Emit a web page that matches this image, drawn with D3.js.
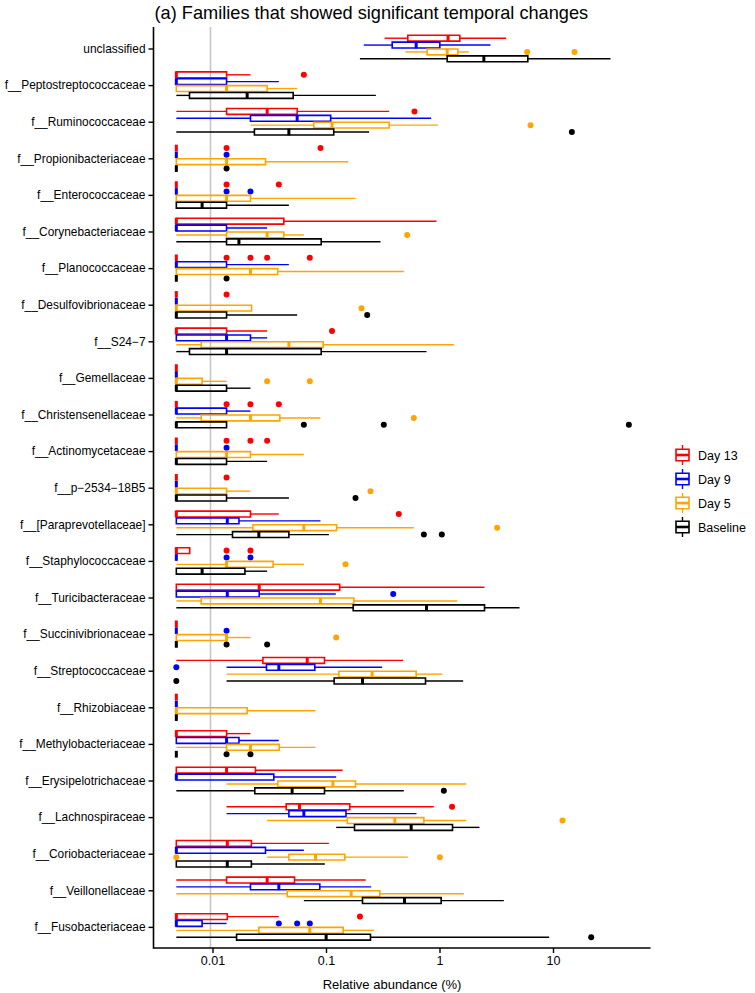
<!DOCTYPE html>
<html>
<head>
<meta charset="utf-8">
<script src="https://cdn.jsdelivr.net/npm/d3@7"></script>
<style>
  html, body { margin: 0; padding: 0; background: #fff; }
  svg { display: block; }
  text { font-family: "Liberation Sans", Arial, Helvetica, sans-serif; fill: #000; }
</style>
</head>
<body>
<div id="chart"></div>
<script>
// ---------------- DATA (relative abundance, %) ----------------
const Z = 0.0048; // value plotted for zero abundance (left edge of data)

const categories = [
  "unclassified", "f__Peptostreptococcaceae", "f__Ruminococcaceae", "f__Propionibacteriaceae",
  "f__Enterococcaceae", "f__Corynebacteriaceae", "f__Planococcaceae", "f__Desulfovibrionaceae",
  "f__S24\u22127", "f__Gemellaceae", "f__Christensenellaceae", "f__Actinomycetaceae",
  "f__p\u22122534\u221218B5", "f__[Paraprevotellaceae]", "f__Staphylococcaceae", "f__Turicibacteraceae",
  "f__Succinivibrionaceae", "f__Streptococcaceae", "f__Rhizobiaceae", "f__Methylobacteriaceae",
  "f__Erysipelotrichaceae", "f__Lachnospiraceae", "f__Coriobacteriaceae", "f__Veillonellaceae",
  "f__Fusobacteriaceae"
];

const groups = ["Day 13", "Day 9", "Day 5", "Baseline"];

// [lower whisker, Q1, median, Q3, upper whisker] per category
const day13 = [
  [0.328, 0.526, 1.19, 1.51, 3.87],
  [Z, Z, Z, 0.0133, 0.0216],
  [Z, 0.0133, 0.0303, 0.0557, 0.360],
  [Z, Z, Z, Z, Z],
  [Z, Z, Z, Z, Z],
  [Z, Z, Z, 0.0425, 0.941],
  [Z, Z, Z, Z, Z],
  [Z, Z, Z, Z, Z],
  [Z, Z, Z, 0.0133, 0.0303],
  [Z, Z, Z, Z, Z],
  [Z, Z, Z, Z, Z],
  [Z, Z, Z, Z, Z],
  [Z, Z, Z, Z, Z],
  [Z, Z, Z, 0.0216, 0.0384],
  [Z, Z, Z, 0.0063, 0.0063],
  [Z, Z, 0.0258, 0.132, 2.49],
  [Z, Z, Z, Z, Z],
  [Z, 0.0278, 0.0683, 0.097, 0.479],
  [Z, Z, Z, Z, Z],
  [Z, Z, Z, 0.0133, 0.0216],
  [Z, Z, 0.0133, 0.0239, 0.140],
  [0.0133, 0.0446, 0.0584, 0.162, 0.891],
  [Z, Z, 0.0135, 0.022, 0.106],
  [Z, 0.0133, 0.0303, 0.0528, 0.224],
  [Z, Z, Z, 0.0135, 0.0384]
];
const day13Out = [
  [], [0.0638], [0.602], [0.0133, 0.0894], [0.0133, 0.0384], [], [0.0133, 0.0216, 0.0303, 0.072],
  [0.0133], [0.113], [], [0.0133, 0.0216, 0.0384], [0.0133, 0.0216, 0.0303], [0.0133], [0.438],
  [0.0133, 0.0216], [], [], [], [], [], [], [1.29], [], [], [0.199]
];

const day9 = [
  [0.215, 0.383, 0.623, 1.007, 2.81],
  [Z, Z, Z, 0.0133, 0.0384],
  [Z, 0.0216, 0.0557, 0.110, 0.845],
  [Z, Z, Z, Z, Z],
  [Z, Z, Z, Z, Z],
  [Z, Z, Z, 0.0133, 0.0303],
  [Z, Z, Z, 0.0133, 0.0471],
  [Z, Z, Z, Z, Z],
  [Z, Z, 0.0133, 0.0216, 0.0303],
  [Z, Z, Z, Z, Z],
  [Z, Z, Z, 0.0133, 0.0216],
  [Z, Z, Z, Z, Z],
  [Z, Z, Z, Z, Z],
  [Z, Z, 0.0135, 0.0171, 0.0894],
  [Z, Z, Z, Z, Z],
  [Z, Z, 0.0135, 0.0258, 0.122],
  [Z, Z, Z, Z, Z],
  [0.0133, 0.0299, 0.0384, 0.0797, 0.3125],
  [Z, Z, Z, Z, Z],
  [Z, Z, 0.0133, 0.0171, 0.0384],
  [Z, Z, Z, 0.0347, 0.123],
  [0.0133, 0.0471, 0.0638, 0.150, 0.627],
  [Z, Z, Z, 0.0293, 0.0638],
  [Z, 0.0216, 0.0384, 0.0882, 0.25],
  [Z, Z, Z, 0.0081, 0.0133]
];
const day9Out = [
  [], [], [], [0.0133], [0.0133, 0.0216], [], [], [], [], [], [], [0.0133], [], [],
  [0.0133, 0.0216], [0.391], [0.0133], [Z], [], [], [], [], [], [], [0.0384, 0.0557, 0.072]
];

const day5 = [
  [0.5015, 0.778, 1.168, 1.451, 1.814],
  [Z, Z, 0.0133, 0.0303, 0.0557],
  [0.0216, 0.0781, 0.113, 0.360, 0.967],
  [Z, Z, 0.0133, 0.0293, 0.157],
  [Z, Z, 0.0133, 0.0216, 0.182],
  [Z, 0.0133, 0.0303, 0.0425, 0.0638],
  [Z, Z, 0.0216, 0.0376, 0.485],
  [Z, Z, Z, 0.0221, 0.0221],
  [Z, 0.00795, 0.0471, 0.0944, 1.338],
  [Z, Z, Z, 0.0081, 0.0133],
  [Z, 0.00795, 0.0216, 0.0392, 0.0894],
  [Z, Z, 0.0133, 0.0216, 0.0638],
  [Z, Z, Z, 0.0133, 0.0216],
  [Z, 0.0227, 0.0638, 0.124, 0.594],
  [Z, 0.0133, 0.0133, 0.0342, 0.0638],
  [Z, 0.00795, 0.0894, 0.176, 1.431],
  [Z, Z, 0.0133, 0.0133, 0.0216],
  [0.0133, 0.130, 0.255, 0.623, 1.056],
  [Z, Z, Z, 0.0202, 0.0808],
  [Z, 0.0133, 0.0216, 0.0387, 0.0808],
  [0.0133, 0.0376, 0.115, 0.182, 1.718],
  [0.0303, 0.154, 0.404, 0.728, 1.718],
  [0.0303, 0.0471, 0.0808, 0.1465, 0.526],
  [Z, 0.0455, 0.1666, 0.298, 1.638],
  [Z, 0.0256, 0.072, 0.1417, 0.264]
];
const day5Out = [
  [5.92, 15.47], [], [6.34], [], [], [0.519], [], [0.2055], [], [0.0303, 0.072], [0.594], [],
  [0.2466], [3.22], [0.1485], [], [0.123], [], [], [], [], [12.13], [Z, 1.007], [], []
];

const baseline = [
  [0.199, 1.168, 2.459, 6.0, 32.1],
  [Z, 0.00627, 0.0202, 0.0514, 0.275],
  [Z, 0.0234, 0.0471, 0.117, 0.24],
  [Z, Z, Z, Z, Z],
  [Z, Z, 0.0081, 0.0133, 0.0471],
  [Z, 0.0133, 0.0171, 0.0907, 0.302],
  [Z, Z, Z, Z, Z],
  [Z, Z, Z, 0.0133, 0.0557],
  [Z, 0.00627, 0.0133, 0.0907, 0.768],
  [Z, Z, Z, 0.0133, 0.0216],
  [Z, Z, Z, 0.0133, 0.0133],
  [Z, Z, Z, 0.0133, 0.0303],
  [Z, Z, Z, 0.0133, 0.0471],
  [Z, 0.015, 0.0256, 0.0471, 0.106],
  [Z, Z, 0.0081, 0.0193, 0.0303],
  [Z, 0.1736, 0.768, 2.493, 5.07],
  [Z, Z, Z, Z, Z],
  [0.0133, 0.118, 0.2097, 0.753, 1.616],
  [Z, Z, Z, Z, Z],
  [Z, Z, Z, Z, Z],
  [Z, 0.0236, 0.0503, 0.097, 0.485],
  [0.1229, 0.1783, 0.563, 1.302, 2.251],
  [Z, Z, 0.0135, 0.022, 0.0977],
  [0.0638, 0.2097, 0.4917, 1.034, 3.688],
  [Z, 0.0163, 0.1003, 0.2466, 9.25]
];
const baselineOut = [
  [], [], [14.66], [0.0133], [], [], [0.0133], [0.2305], [], [], [0.0638, 0.323, 46.6], [],
  [0.182], [0.728, 1.048], [], [], [0.0133, 0.0303], [Z], [], [0.0133, 0.0216], [1.092], [], [], [], [21.7]
];

const xTicks = [0.01, 0.1, 1, 10];
const xTickLabels = ["0.01", "0.1", "1", "10"];
const refLine = 0.0096;

const groupStats = [day13, day9, day5, baseline];
const groupOut = [day13Out, day9Out, day5Out, baselineOut];
const colors = ["#FF0000", "#0000FF", "#FFA500", "#000000"];

// ---------------- LAYOUT ----------------
const W = 755, H = 993;
const panel = { left: 153.5, right: 650.5, top: 27, bottom: 948 };
const font = '"Liberation Sans", Arial, Helvetica, sans-serif';

const svg = d3.select("#chart").append("svg").attr("width", W).attr("height", H);

const x = d3.scaleLog().domain([0.01, 10]).range([212.5, 553]);
const y = d3.scalePoint().domain(categories).range([48.5, 48.5 + 24 * 36.6]);
const band = y.step();
const slot = band * 0.75 / 4;
const boxH = slot - 1.0;

// reference line
svg.append("line")
  .attr("x1", x(refLine)).attr("x2", x(refLine))
  .attr("y1", panel.top).attr("y2", panel.bottom)
  .attr("stroke", "#c6c6c6").attr("stroke-width", 1.6);

// boxplots
const plot = svg.append("g");
groupStats.forEach((stats, g) => {
  const col = colors[g];
  const gg = plot.append("g");
  stats.forEach((s, i) => {
    const cy = y(categories[i]) + (g - 1.5) * slot;
    const [lo, q1, med, q3, hi] = s;
    if (x(q1) - x(lo) > 0.1)
      gg.append("line").attr("x1", x(lo)).attr("x2", x(q1)).attr("y1", cy).attr("y2", cy)
        .attr("stroke", col).attr("stroke-width", 1.4);
    if (x(hi) - x(q3) > 0.1)
      gg.append("line").attr("x1", x(q3)).attr("x2", x(hi)).attr("y1", cy).attr("y2", cy)
        .attr("stroke", col).attr("stroke-width", 1.4);
    const x1 = x(q1), x2 = x(q3), y1 = cy - boxH / 2, y2 = cy + boxH / 2;
    gg.append("path")
      .attr("d", `M${x1},${y1}H${x2}V${y2}H${x1}Z`)
      .attr("fill", "none").attr("stroke", col).attr("stroke-width", 1.6)
      .attr("stroke-linejoin", "miter");
    gg.append("line").attr("x1", x(med)).attr("x2", x(med)).attr("y1", y1 - 0.4).attr("y2", y2 + 0.4)
      .attr("stroke", col).attr("stroke-width", 3);
    groupOut[g][i].forEach(v => {
      gg.append("circle").attr("cx", x(v)).attr("cy", cy).attr("r", 3).attr("fill", col);
    });
  });
});

// axes
const xAxis = d3.axisBottom(x).tickValues(xTicks).tickFormat((d, i) => xTickLabels[i])
  .tickSize(5).tickSizeOuter(0).tickPadding(3);
const gx = svg.append("g").attr("transform", `translate(0,${panel.bottom})`).call(xAxis);
gx.select(".domain").remove();
gx.selectAll(".tick line").attr("stroke", "#000").attr("stroke-width", 1.4);
gx.selectAll(".tick text").attr("font-family", font).attr("font-size", 12.5).attr("fill", "#000");

const yAxis = d3.axisLeft(y).tickSize(5).tickSizeOuter(0).tickPadding(3);
const gy = svg.append("g").attr("transform", `translate(${panel.left},0)`).call(yAxis);
gy.select(".domain").remove();
gy.selectAll(".tick line").attr("stroke", "#000").attr("stroke-width", 1.4);
gy.selectAll(".tick text").attr("font-family", font).attr("font-size", 11.9).attr("fill", "#000");

svg.append("line").attr("x1", panel.left).attr("x2", panel.right)
  .attr("y1", panel.bottom).attr("y2", panel.bottom).attr("stroke", "#000").attr("stroke-width", 1.6);
svg.append("line").attr("x1", panel.left).attr("x2", panel.left)
  .attr("y1", panel.top).attr("y2", panel.bottom + 0.8).attr("stroke", "#000").attr("stroke-width", 1.6);

// titles
svg.append("text").attr("x", panel.left + 1).attr("y", 19)
  .attr("font-size", 18.2).text("(a) Families that showed significant temporal changes");
svg.append("text").attr("x", 392).attr("y", 989).attr("text-anchor", "middle")
  .attr("font-size", 13).text("Relative abundance (%)");

// legend
const leg = svg.append("g");
groups.forEach((name, g) => {
  const cy = 455 + g * 24, col = colors[g];
  const lx1 = 676, lx2 = 689, cx = (lx1 + lx2) / 2;
  leg.append("line").attr("x1", cx).attr("x2", cx).attr("y1", cy - 10).attr("y2", cy - 5.7)
    .attr("stroke", col).attr("stroke-width", 1.4);
  leg.append("line").attr("x1", cx).attr("x2", cx).attr("y1", cy + 5.7).attr("y2", cy + 10)
    .attr("stroke", col).attr("stroke-width", 1.4);
  leg.append("path").attr("d", `M${lx1},${cy - 5.7}H${lx2}V${cy + 5.7}H${lx1}Z`)
    .attr("fill", "none").attr("stroke", col).attr("stroke-width", 1.6);
  leg.append("line").attr("x1", lx1).attr("x2", lx2).attr("y1", cy).attr("y2", cy)
    .attr("stroke", col).attr("stroke-width", 2.6);
  leg.append("text").attr("x", 698).attr("y", cy).attr("dy", "0.36em")
    .attr("font-size", 12.5).text(name);
});
</script>
</body>
</html>
